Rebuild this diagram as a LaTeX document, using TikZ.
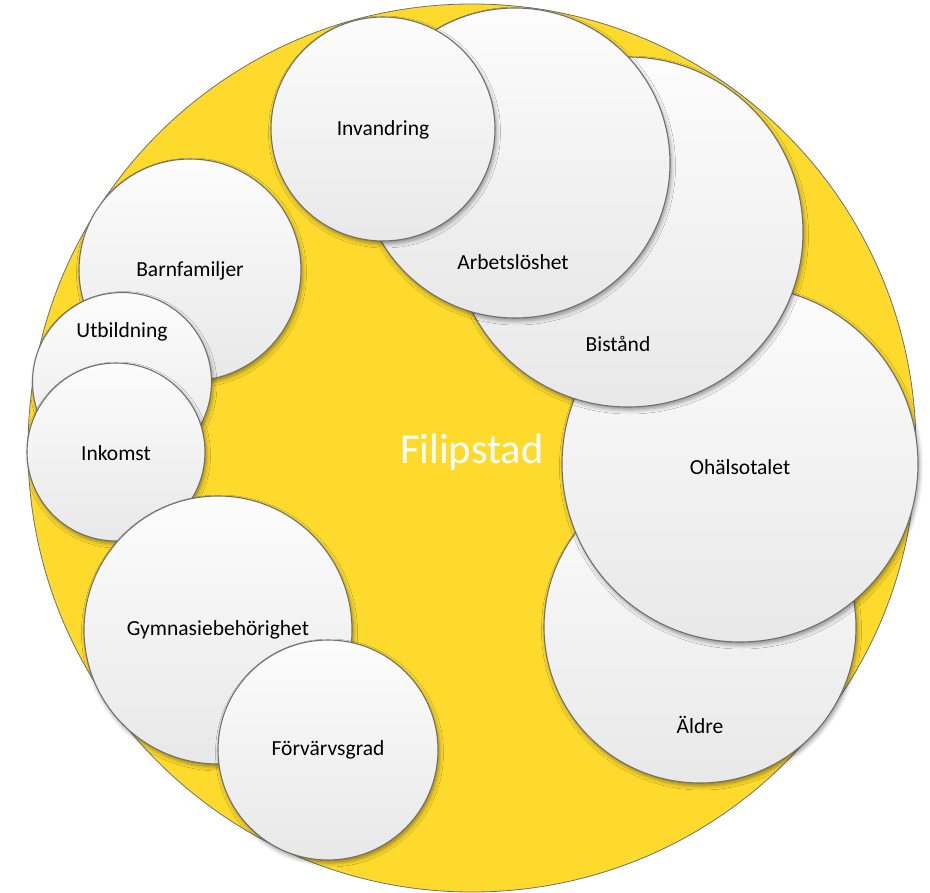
\documentclass[tikz,border=0pt]{standalone}
\usepackage{fontspec}
\setmainfont{Carlito}
\usepackage{tikz}
\usetikzlibrary{shadows.blur}
\definecolor{fyellow}{RGB}{254,218,44}
\definecolor{rimgray}{RGB}{112,112,112}

\begin{document}
\begin{tikzpicture}[x=1pt,y=-1pt,
  bubble/.style={circle, inner sep=0pt, draw=rimgray, line width=1.1pt,
    top color=white!99!black, bottom color=black!9,
    blur shadow={shadow xshift=1.5pt, shadow yshift=-3pt, shadow blur radius=4pt, shadow opacity=40}},
  tag/.style={font=\fontsize{21.5}{24}\selectfont, text=black}]
\useasboundingbox (0,0) rectangle (930,893);
\node[circle, inner sep=0pt, fill=fyellow, draw=rimgray, line width=0.8pt, minimum size=888pt] (filipstad) at (472,448) {};
\node[font=\fontsize{42.5}{48}\selectfont, text=white] (titel) at (472,452) {Filipstad};
\node[bubble, minimum size=312pt] (aldre) at (700,627) {};
\node[tag] (taldre) at (700,725) {Äldre};
\node[bubble, minimum size=356pt] (ohals) at (740,464) {};
\node[tag] (tohals) at (740,467) {Ohälsotalet};
\node[bubble, minimum size=350pt] (bistand) at (628,232) {};
\node[tag] (tbistand) at (618,344) {Bistånd};
\node[bubble, minimum size=310pt] (arbets) at (515,163) {};
\node[tag] (tarbets) at (513,262) {Arbetslöshet};
\node[bubble, minimum size=224pt] (invand) at (383,129) {};
\node[tag] (tinvand) at (383,130) {Invandring};
\node[bubble, minimum size=222pt] (barnfam) at (190,270) {};
\node[tag] (tbarnfam) at (190,271) {Barnfamiljer};
\node[bubble, minimum size=179pt] (utbild) at (122,382) {};
\node[tag] (tutbild) at (122,332) {Utbildning};
\node[bubble, minimum size=178pt] (inkomst) at (116,452) {};
\node[tag] (tinkomst) at (116,453) {Inkomst};
\node[bubble, minimum size=268pt] (gymn) at (218,630) {};
\node[tag] (tgymn) at (218,630) {Gymnasiebehörighet};
\node[bubble, minimum size=220pt] (forv) at (328,750) {};
\node[tag] (tforv) at (328,750) {Förvärvsgrad};
\end{tikzpicture}
\end{document}
